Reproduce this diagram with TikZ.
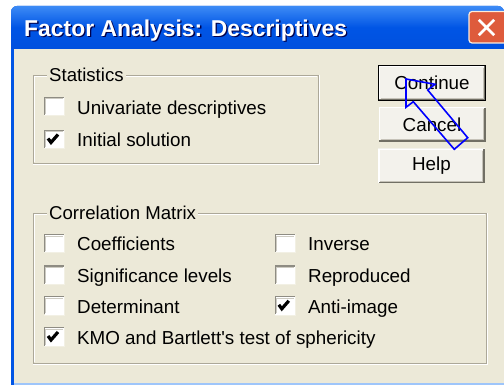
\documentclass[tikz,border=0pt]{standalone}
\usepackage{fontspec}
\setmainfont{Liberation Sans}[Ligatures=TeXOff]
\definecolor{winbg}{HTML}{ECE9D8}
\definecolor{xpblue}{HTML}{0055E5}
\definecolor{xptop}{HTML}{3D8BF5}
\definecolor{xpbot}{HTML}{0050DE}
\definecolor{closered}{HTML}{DE5B3C}
\definecolor{btnface}{HTML}{F3F2EC}
\definecolor{edgegray}{HTML}{ACA899}
\definecolor{darkedge}{HTML}{716F64}
\begin{document}
\begin{tikzpicture}[x=1pt,y=-1pt,
  lbl/.style={anchor=base west, inner sep=0pt, font=\fontsize{18.8}{20}\selectfont, text=black},
  grouplbl/.style={anchor=west, inner xsep=2pt, inner ysep=1pt, fill=winbg, font=\fontsize{18.6}{20}\selectfont},
  cbox/.style={rectangle, fill=white, minimum width=20pt, minimum height=18pt, inner sep=0pt},
  btn/.style={rectangle, fill=btnface, minimum width=107pt, minimum height=35pt, inner sep=0pt, font=\fontsize{18.8}{20}\selectfont},
  checkmark/.style={line width=3.2pt, black, line join=miter},
  pointer/.style={draw=blue, line width=1.6pt, line join=miter}
]
\useasboundingbox (0,0) rectangle (504,385);
\fill[white] (0,0) rectangle (504,385);
% window frame
\fill[xpblue] (11,385) -- (11,12) [rounded corners=6pt] -- (11,6) -- (504,6) [sharp corners] -- (504,385) -- cycle;
\shade[top color=xptop, bottom color=xpbot, middle color=xpblue] (11,49) -- (11,12) [rounded corners=6pt] -- (11,6) -- (504,6) [sharp corners] -- (504,49) -- cycle;
\fill[winbg] (14,49) rectangle (504,383);
\fill[xptop!50!white] (14,383) rectangle (504,385);
% title
\node[anchor=base west, inner sep=0pt, text=black!70!blue, font=\bfseries\fontsize{22.9}{24}\selectfont] at (25.3,37.8) {Factor Analysis: Descriptives};
\node[anchor=base west, inner sep=0pt, text=white, font=\bfseries\fontsize{22.9}{24}\selectfont] (title) at (24,36.5) {Factor Analysis: Descriptives};
% close button
\draw[fill=closered, draw=white!85!orange, line width=1.2pt, rounded corners=3pt] (469,11.5) rectangle (507,43);
\node[inner sep=0pt, minimum size=15pt] (xbtn) at (486.5,27.5) {};
\draw[white, line width=2.6pt] (xbtn.north west) -- (xbtn.south east) (xbtn.north east) -- (xbtn.south west);

% Statistics group
\draw[edgegray] (33,75) rectangle (318,163);
\draw[white] (34,76) -- (317,76) (34,76) -- (34,162) (33,164) -- (319,164) -- (319,75);
\node[grouplbl] (gstat) at (47,75) {Statistics};

% Correlation group
\draw[edgegray] (33,213) rectangle (486,363);
\draw[white] (34,214) -- (485,214) (34,214) -- (34,362) (33,364) -- (487,364) -- (487,213);
\node[grouplbl] (gcorr) at (47,213) {Correlation Matrix};

% checkbox macro
\newcommand{\mycheckbox}[4]{%
  \node[cbox] (#1) at (#2,#3) {};
  \draw[darkedge!80!white, line width=1.2pt] ([yshift=0.6pt]#1.south west) |- ([xshift=-0.6pt]#1.north east);
  \draw[edgegray!60!white, line width=1pt] ([xshift=1.6pt,yshift=1.6pt]#1.south west) |- ([xshift=-1.6pt,yshift=-1.6pt]#1.north east);
  \draw[winbg!70!white, line width=1pt] (#1.north east) |- (#1.south west);
  \ifx#4c\draw[checkmark] ([xshift=-6.5pt,yshift=1pt]#1.center) -- ([xshift=-3.5pt,yshift=-3pt]#1.center) -- ([xshift=3.5pt,yshift=5pt]#1.center);\fi
}

\mycheckbox{cb1}{54.5}{106.5}{n}
\node[lbl] (t1) at (77,114.5) {Univariate descriptives};
\mycheckbox{cb2}{54.5}{139.5}{c}
\node[lbl] (t2) at (77,147) {Initial solution};

\mycheckbox{cb3}{54.5}{243.7}{n}
\node[lbl] (t3) at (77,251) {Coefficients};
\mycheckbox{cb4}{285.3}{243.7}{n}
\node[lbl] (t4) at (308,251) {Inverse};
\mycheckbox{cb5}{54.5}{275.2}{n}
\node[lbl] (t5) at (77,282.3) {Significance levels};
\mycheckbox{cb6}{285.3}{275.2}{n}
\node[lbl] (t6) at (308,282.3) {Reproduced};
\mycheckbox{cb7}{54.5}{305.8}{n}
\node[lbl] (t7) at (77,313.3) {Determinant};
\mycheckbox{cb8}{285.3}{305.8}{c}
\node[lbl] (t8) at (308,313.3) {Anti-image};
\mycheckbox{cb9}{54.5}{337}{c}
\node[lbl] (t9) at (77,344.3) {KMO and Bartlett's test of sphericity};

% buttons
\newcommand{\mybutton}[5]{%
  \node[btn] (#1) at (#2,#3) {\raisebox{-0.5pt}{#4}};
  \draw[white, line width=1.4pt] ([xshift=1pt,yshift=1pt]#1.south west) |- ([xshift=-1pt,yshift=-1pt]#1.north east);
  \draw[darkedge, line width=1.6pt] ([xshift=-1pt,yshift=-1pt]#1.north east) |- ([xshift=1pt,yshift=1pt]#1.south west);
  \draw[edgegray!70!white, line width=1pt] ([xshift=-2.5pt,yshift=-2.5pt]#1.north east) |- ([xshift=2.5pt,yshift=2.5pt]#1.south west);
  \ifx#5d\draw[black, line width=1.3pt] (#1.south west) rectangle (#1.north east);\fi
}
\mybutton{bcont}{432}{83}{Continue}{d}
\mybutton{bcanc}{432}{124.5}{Cancel}{n}
\mybutton{bhelp}{431.5}{166}{Help}{n}

% blue pointer arrow
\draw[pointer] (406,79) -- (435,84.3) -- (427.7,90) -- (467.7,137.7) -- (454.3,149.3) -- (413.3,101.7) -- (406,107.3) -- cycle;
\end{tikzpicture}
\end{document}
